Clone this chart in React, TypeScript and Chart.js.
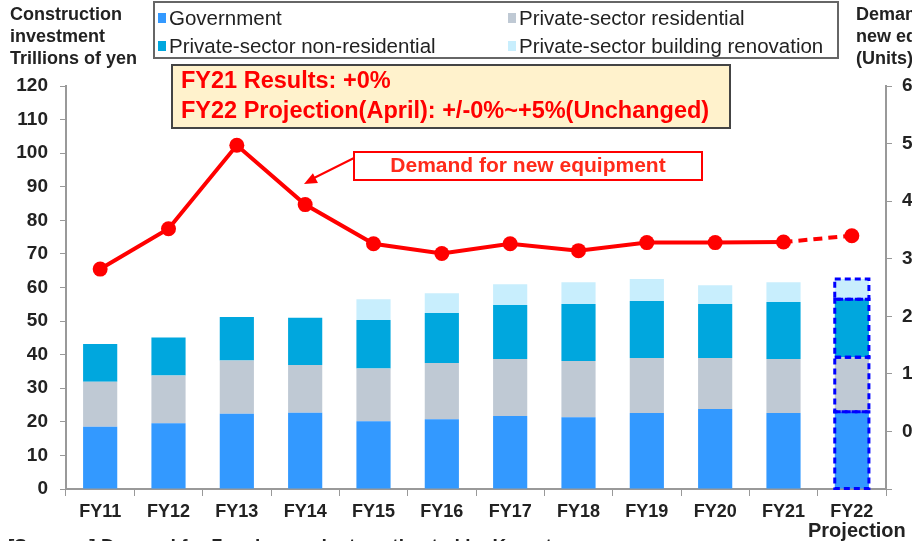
import React, { useEffect, useRef } from "react";
import { Chart, registerables } from "chart.js";

Chart.register(...registerables);

const categories = ["FY11", "FY12", "FY13", "FY14", "FY15", "FY16", "FY17", "FY18", "FY19", "FY20", "FY21", "FY22"];
const government = [18.5, 19.6, 22.4, 22.7, 20.2, 20.8, 21.7, 21.4, 22.6, 23.8, 22.6, 23.0];
const privateResidential = [13.4, 14.2, 15.9, 14.2, 15.7, 16.7, 17.0, 16.7, 16.4, 15.2, 16.1, 16.2];
const privateNonResidential = [11.3, 11.3, 12.9, 14.1, 14.4, 14.9, 16.1, 17.0, 17.0, 16.1, 17.0, 17.3];
const privateRenovation = [0, 0, 0, 0, 6.2, 5.9, 6.2, 6.5, 6.5, 5.6, 5.9, 6.0];
const demandUnits = [28200, 35200, 49700, 39400, 32600, 30900, 32600, 31400, 32800, 32800, 32900, 34000];
const leftTicks = { min: 0, max: 120, step: 10 };
const rightTicks = { min: -10000, max: 60000, step: 10000 };
const projectionIndex = 11;

const FONT = "'Liberation Sans', Arial, sans-serif";
const TEXT = "#222";

const overlayPlugin = {
  id: "overlay",
  afterDatasetsDraw(chart: any) {
    const ctx = chart.ctx;
    ctx.save();
    ctx.strokeStyle = "#0000FF";
    ctx.lineWidth = 3;
    ctx.setLineDash([6, 4]);
    for (let d = 0; d < 4; d++) {
      const meta = chart.getDatasetMeta(d);
      const el: any = meta.data[projectionIndex];
      if (!el) continue;
      const h = Math.abs(el.base - el.y);
      if (h < 1) continue;
      ctx.strokeRect(el.x - el.width / 2, el.y, el.width, el.base - el.y);
    }
    ctx.restore();
  },
  afterDraw(chart: any) {
    const ctx = chart.ctx;
    ctx.save();
    // left title
    ctx.fillStyle = TEXT;
    ctx.font = `bold 18px ${FONT}`;
    ctx.textBaseline = "middle";
    ctx.textAlign = "left";
    ["Construction", "investment", "Trillions of yen"].forEach((t, i) => ctx.fillText(t, 10, 15 + i * 22));
    // right title
    ["Demand for", "new equipment", "(Units)"].forEach((t, i) => ctx.fillText(t, 856, 15 + i * 22));

    // legend
    ctx.strokeStyle = "#666";
    ctx.lineWidth = 2;
    ctx.fillStyle = "#fff";
    ctx.fillRect(154, 2, 684, 56);
    ctx.strokeRect(154, 2, 684, 56);
    const items = [
      { t: "Government", c: "#3399FF", x: 158, y: 18 },
      { t: "Private-sector residential", c: "#BFC9D4", x: 508, y: 18 },
      { t: "Private-sector non-residential", c: "#00A7DE", x: 158, y: 46 },
      { t: "Private-sector building renovation", c: "#C8EEFD", x: 508, y: 46 },
    ];
    ctx.font = `20.5px ${FONT}`;
    items.forEach((it) => {
      ctx.fillStyle = it.c;
      ctx.fillRect(it.x, it.y - 5, 8, 10);
      ctx.fillStyle = TEXT;
      ctx.fillText(it.t, it.x + 11, it.y + 1);
    });

    // annotation box
    ctx.fillStyle = "#FFF2CC";
    ctx.fillRect(172, 65, 558, 63);
    ctx.strokeStyle = "#444";
    ctx.lineWidth = 2;
    ctx.strokeRect(172, 65, 558, 63);
    ctx.fillStyle = "#FF0000";
    ctx.font = `bold 23.5px ${FONT}`;
    ctx.fillText("FY21 Results: +0%", 181, 82);
    ctx.fillText("FY22 Projection(April): +/-0%~+5%(Unchanged)", 181, 112);

    // demand label box
    ctx.fillStyle = "#fff";
    ctx.fillRect(354, 152, 348, 28);
    ctx.strokeStyle = "#FF0000";
    ctx.lineWidth = 2;
    ctx.strokeRect(354, 152, 348, 28);
    ctx.fillStyle = "#FF2A1A";
    ctx.font = `bold 21px ${FONT}`;
    ctx.textAlign = "center";
    ctx.fillText("Demand for new equipment", 528, 166);

    // arrow
    ctx.strokeStyle = "#FF0000";
    ctx.lineWidth = 2;
    ctx.beginPath();
    ctx.moveTo(354, 158);
    ctx.lineTo(312, 179);
    ctx.stroke();
    ctx.fillStyle = "#FF0000";
    ctx.beginPath();
    const tipX = 304, tipY = 184;
    const ang = Math.atan2(158 - tipY, 354 - tipX);
    ctx.moveTo(tipX, tipY);
    ctx.lineTo(tipX + 14 * Math.cos(ang + 0.4), tipY + 14 * Math.sin(ang + 0.4));
    ctx.lineTo(tipX + 14 * Math.cos(ang - 0.4), tipY + 14 * Math.sin(ang - 0.4));
    ctx.closePath();
    ctx.fill();

    // projection label & source
    ctx.fillStyle = TEXT;
    ctx.textAlign = "left";
    ctx.font = `bold 20px ${FONT}`;
    ctx.fillText("Projection", 808, 531);
    ctx.font = `bold 19px ${FONT}`;
    ctx.fillText("[Sources] Demand for 7 major products estimated by Komatsu", 8, 547);
    ctx.restore();
  },
};

export default function App() {
  const ref = useRef<HTMLCanvasElement>(null);
  useEffect(() => {
    if (!ref.current) return;
    const barCommon = { stack: "s", yAxisID: "y", order: 2, borderWidth: 0, barPercentage: 0.5, categoryPercentage: 1 };
    const chart = new Chart(ref.current, {
      data: {
        labels: categories,
        datasets: [
          { type: "bar", label: "Government", data: government, backgroundColor: "#3399FF", ...barCommon } as any,
          { type: "bar", label: "Private-sector residential", data: privateResidential, backgroundColor: "#BFC9D4", ...barCommon } as any,
          { type: "bar", label: "Private-sector non-residential", data: privateNonResidential, backgroundColor: "#00A7DE", ...barCommon } as any,
          { type: "bar", label: "Private-sector building renovation", data: privateRenovation, backgroundColor: "#C8EEFD", ...barCommon } as any,
          {
            type: "line",
            label: "Demand for new equipment",
            data: demandUnits,
            yAxisID: "y1",
            order: 0,
            borderColor: "#FF0000",
            backgroundColor: "#FF0000",
            borderWidth: 4,
            pointRadius: 7.5,
            pointBackgroundColor: "#FF0000",
            pointBorderWidth: 0,
            segment: {
              borderDash: (c: any) => (c.p1DataIndex === projectionIndex ? [9, 6] : undefined),
            },
          } as any,
        ],
      },
      options: {
        responsive: false,
        animation: false,
        layout: { padding: { top: 86, left: 0, right: 0, bottom: 0 } },
        plugins: { legend: { display: false }, tooltip: { enabled: false } },
        scales: {
          x: {
            stacked: true,
            offset: true,
            grid: { display: true, drawOnChartArea: false, tickLength: 7, color: "#999", offset: true },
            border: { color: "#999", width: 2 },
            ticks: { color: TEXT, font: { family: FONT, size: 18, weight: "bold" }, padding: 5 },
            afterFit: (s: any) => { s.height = 52; },
          },
          y: {
            position: "left",
            stacked: true,
            min: leftTicks.min,
            max: leftTicks.max,
            grid: { drawOnChartArea: false, tickLength: 6, color: "#999" },
            border: { color: "#999", width: 2 },
            ticks: { stepSize: leftTicks.step, color: TEXT, font: { family: FONT, size: 19, weight: "bold" }, padding: 12 },
            afterFit: (s: any) => { s.width = 66; },
          },
          y1: {
            position: "right",
            min: rightTicks.min,
            max: rightTicks.max,
            grid: { drawOnChartArea: false, tickLength: 6, color: "#999" },
            border: { color: "#999", width: 2 },
            ticks: {
              stepSize: rightTicks.step,
              color: TEXT,
              font: { family: FONT, size: 19, weight: "bold" },
              padding: 10,
              callback: (v: any) => (v < 0 ? "" : Number(v).toLocaleString("en-US")),
            },
            afterFit: (s: any) => { s.width = 26; },
          },
        },
      },
      plugins: [overlayPlugin],
    });
    return () => chart.destroy();
  }, []);
  return (
    <div style={{ position: "absolute", left: 0, top: 0, width: 912, height: 541, background: "#fff" }}>
      <canvas ref={ref} width={912} height={541} />
    </div>
  );
}
